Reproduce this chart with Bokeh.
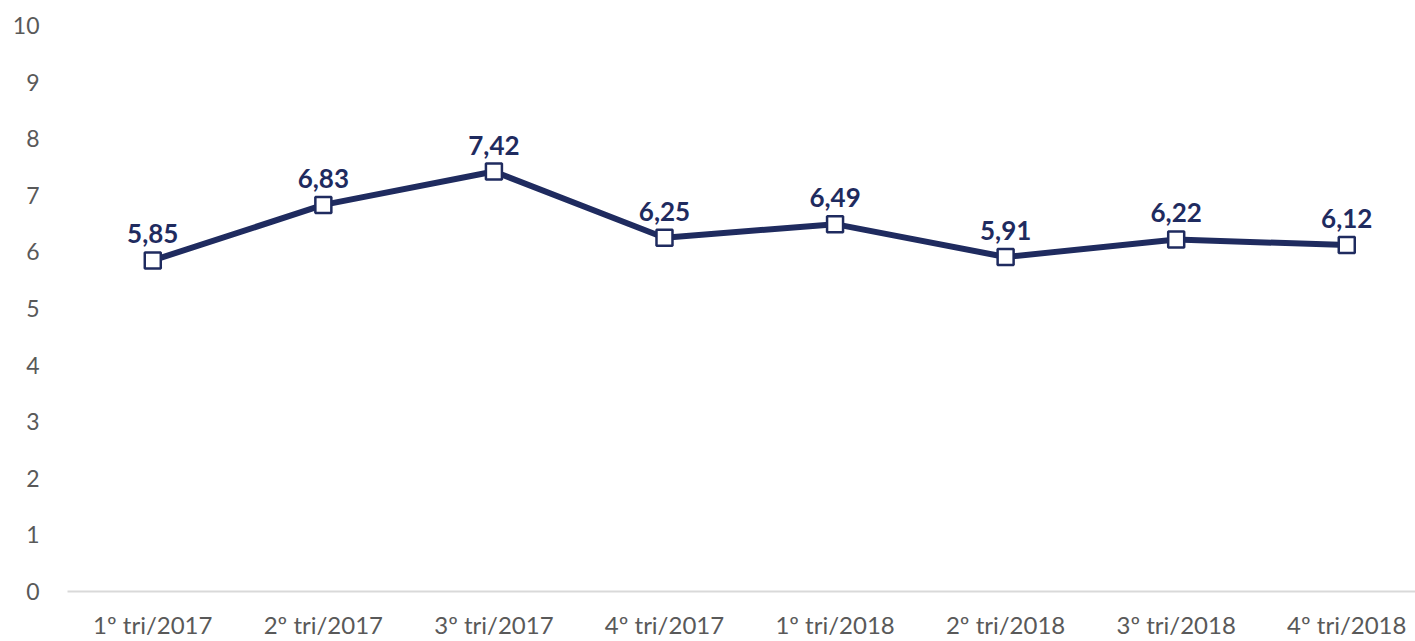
from bokeh.plotting import figure
from bokeh.models import ColumnDataSource, FixedTicker, Range1d
from bokeh.core.properties import value
from bokeh.embed import file_html
from bokeh.resources import INLINE

categories = ["1º tri/2017", "2º tri/2017", "3º tri/2017", "4º tri/2017",
              "1º tri/2018", "2º tri/2018", "3º tri/2018", "4º tri/2018"]
values = [5.85, 6.83, 7.42, 6.25, 6.49, 5.91, 6.22, 6.12]
value_labels = ["5,85", "6,83", "7,42", "6,25", "6,49", "5,91", "6,22", "6,12"]
y_ticks = list(range(0, 11))

xs = list(range(len(categories)))
src = ColumnDataSource(dict(x=xs, y=values, lab=value_labels))

NAVY = "#1F2B5F"
FONT = "Lato"

p = figure(width=1415, height=641, output_backend="svg", toolbar_location=None,
           x_range=Range1d(-0.5, 7.403), y_range=Range1d(0, 10),
           min_border_left=67, min_border_right=0, min_border_top=25, min_border_bottom=50)
p.outline_line_color = None
p.background_fill_color = "white"
p.border_fill_color = "white"
p.xgrid.visible = False
p.ygrid.visible = False

p.yaxis.ticker = FixedTicker(ticks=y_ticks)
p.yaxis.axis_line_color = None
p.yaxis.major_tick_line_color = None
p.yaxis.minor_tick_line_color = None
p.yaxis.major_label_standoff = 22
p.yaxis.major_label_text_font = FONT
p.yaxis.major_label_text_font_size = "23px"
p.yaxis.major_label_text_color = "#595959"

p.xaxis.ticker = FixedTicker(ticks=xs)
p.xaxis.major_label_overrides = {i: c for i, c in enumerate(categories)}
p.xaxis.axis_line_color = "#D9D9D9"
p.xaxis.axis_line_width = 2
p.xaxis.major_tick_line_color = None
p.xaxis.minor_tick_line_color = None
p.xaxis.major_label_standoff = 12
p.xaxis.major_label_text_font = FONT
p.xaxis.major_label_text_font_size = "24px"
p.xaxis.major_label_text_color = "#595959"

p.line("x", "y", source=src, line_color=NAVY, line_width=6, line_join="round")
p.scatter("x", "y", source=src, marker="square", size=16, fill_color="white",
          line_color=NAVY, line_width=2.5)
p.text("x", "y", text="lab", source=src, text_align="center", text_baseline="bottom",
       y_offset=-17, text_font=value(FONT), text_font_style="bold",
       text_font_size="26px", text_color=NAVY)

open("out.html", "w").write(file_html(p, INLINE))
